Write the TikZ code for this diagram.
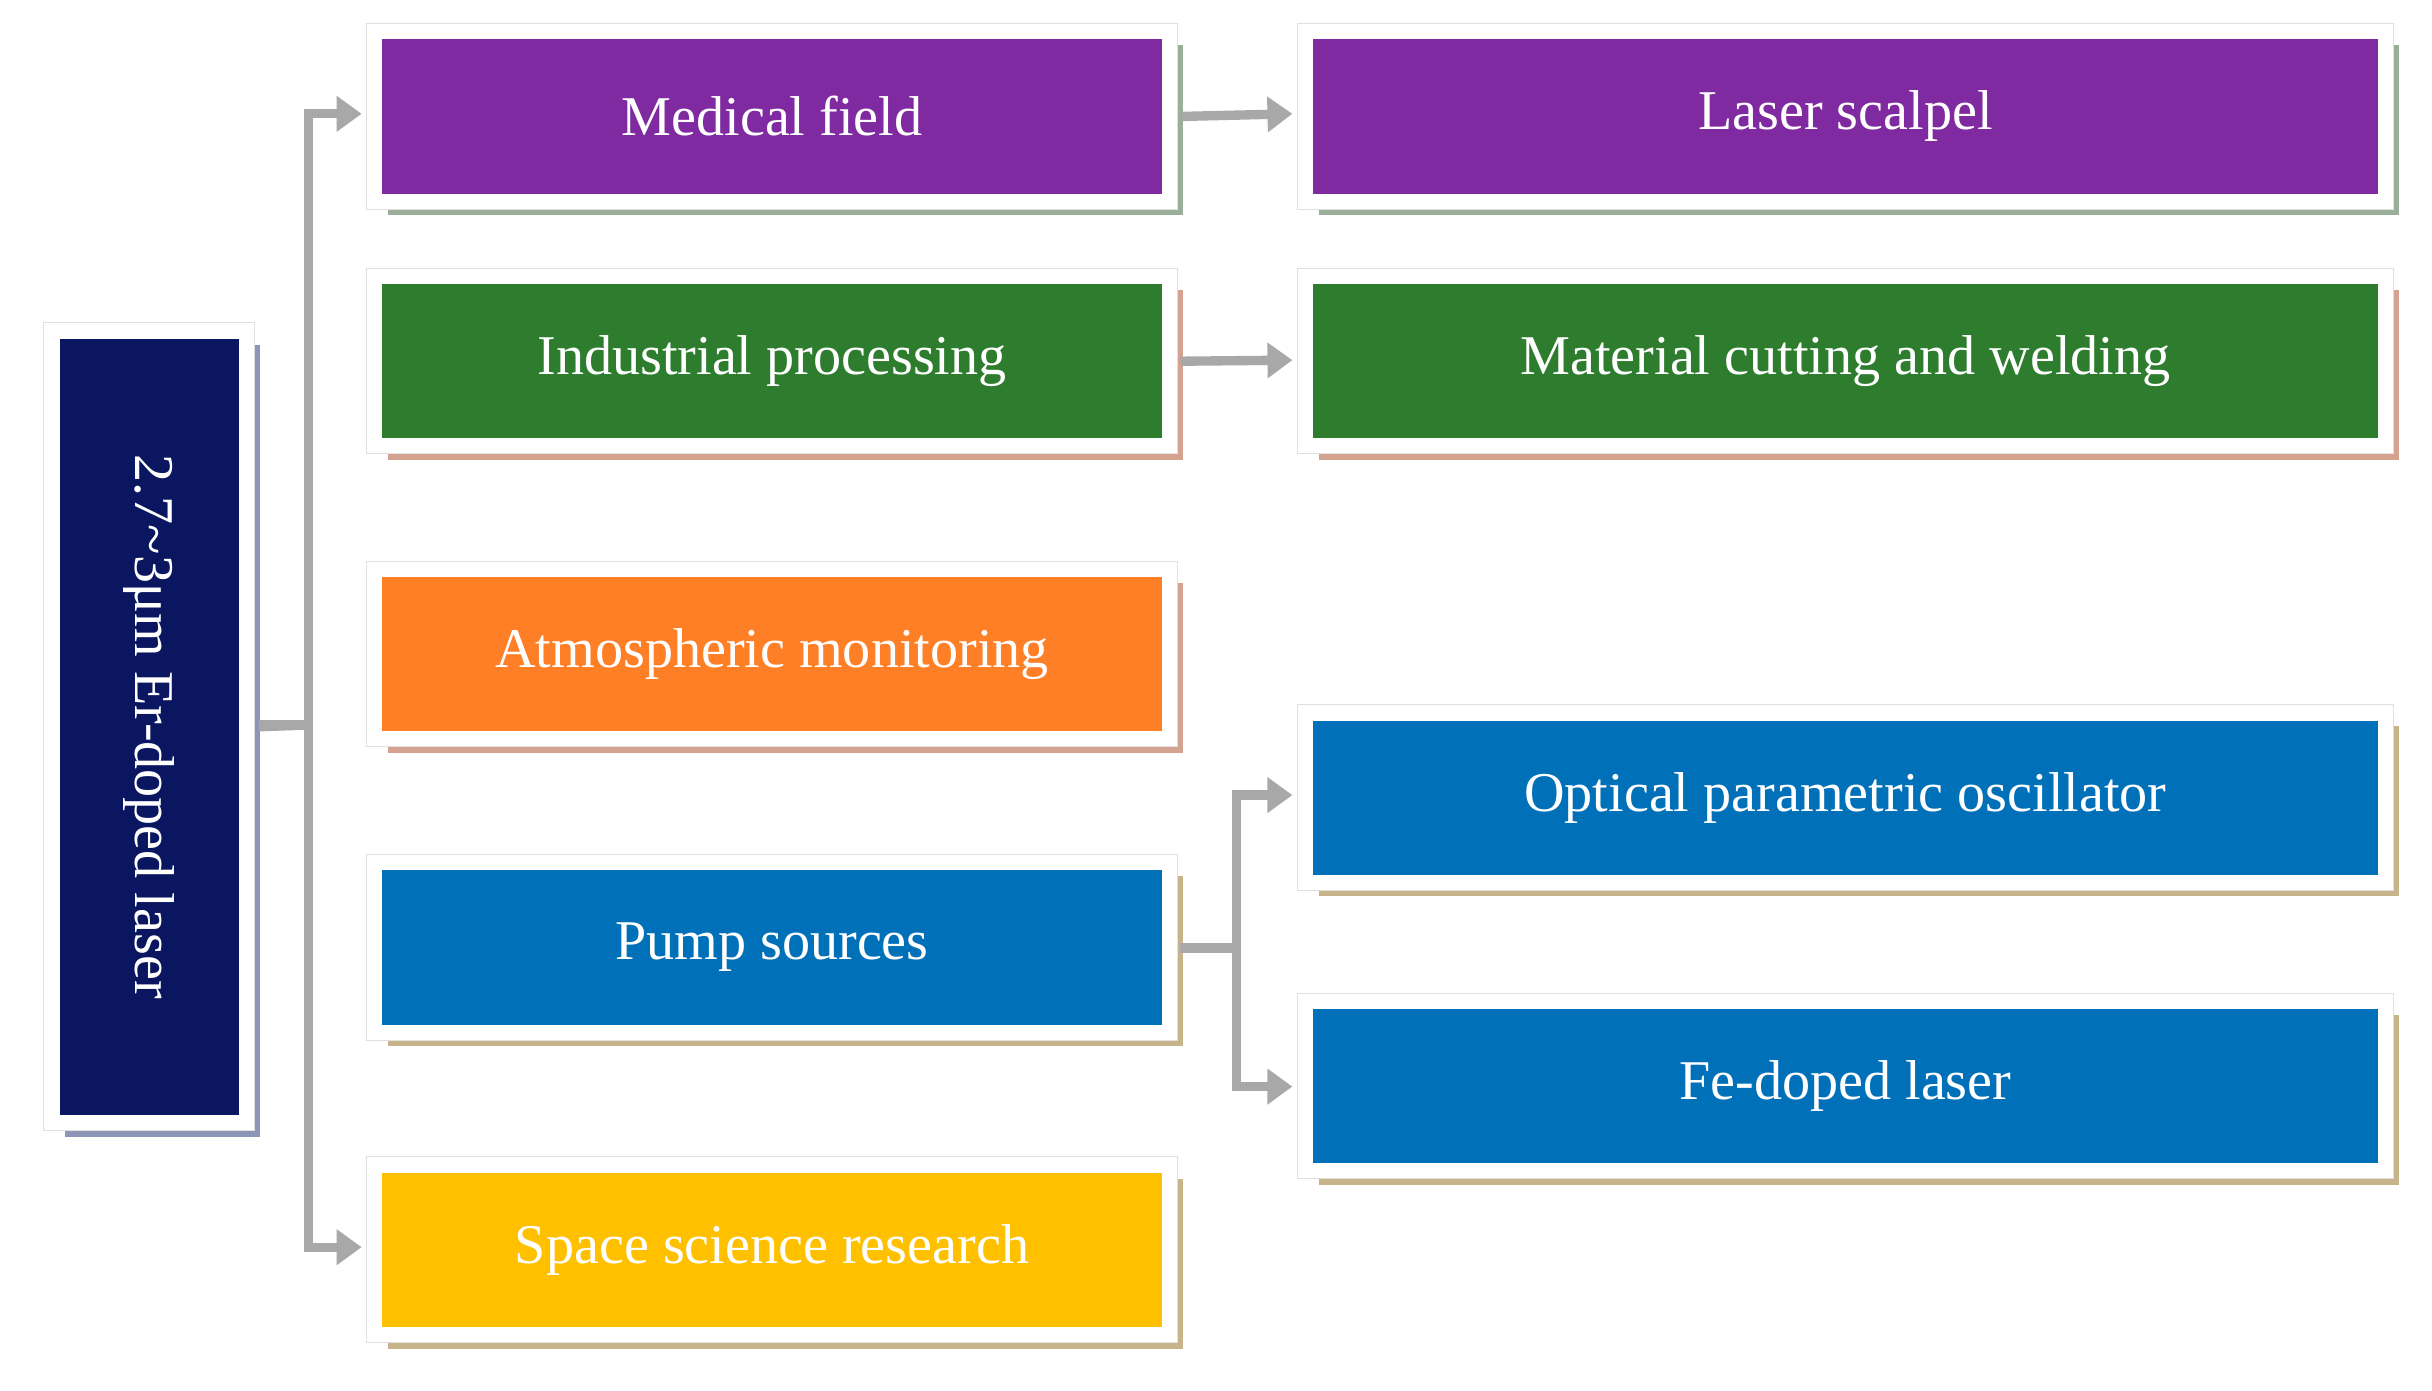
\documentclass[tikz,border=0pt]{standalone}
\usepackage{fontspec}
\setmainfont{Liberation Serif}
\usetikzlibrary{arrows.meta}
\definecolor{cpur}{HTML}{7F2AA0}
\definecolor{cgrn}{HTML}{2E7D2E}
\definecolor{corg}{HTML}{FF7F27}
\definecolor{cblu}{HTML}{0070B8}
\definecolor{cyel}{HTML}{FFC000}
\definecolor{cnav}{HTML}{0A1660}
\definecolor{sgrn}{HTML}{9AAE9A}
\definecolor{sred}{HTML}{D4A390}
\definecolor{sbei}{HTML}{C8B48A}
\definecolor{snav}{HTML}{8C94B8}
\definecolor{carr}{HTML}{A8A8A8}
\tikzset{
  arr/.style={draw=carr,line width=6pt,-{Triangle[length=16pt,width=22pt]}},
  ln/.style={draw=carr,line width=6pt},
  lbl/.style={text=white,font=\fontsize{36}{42}\selectfont},
}
\newcommand{\mybox}[8]{%
  \fill[#7] (#2+4,#3+4) rectangle (#4+14,#5+14);
  \fill[white,draw=black!12] (#2-10,#3-10) rectangle (#4+10,#5+10);
  \node[fill=#6,minimum width=#4-#2,minimum height=#5-#3,inner sep=0pt,anchor=north west,lbl] (#1) at (#2,#3) {#8};
}
\begin{document}
\begin{tikzpicture}[x=1pt,y=-1pt]
\useasboundingbox (0,0) rectangle (1560,892);
\mybox{root}{38}{217}{153}{715}{cnav}{snav}{}
\node[lbl,rotate=-90] at (root.center) {2.7\textasciitilde3μm Er-doped laser};
\mybox{med}{245}{25}{745}{124}{cpur}{sgrn}{Medical field}
\mybox{ind}{245}{182}{745}{281}{cgrn}{sred}{Industrial processing}
\mybox{atm}{245}{370}{745}{469}{corg}{sred}{Atmospheric monitoring}
\mybox{pump}{245}{558}{745}{657}{cblu}{sbei}{Pump sources}
\mybox{spc}{245}{752}{745}{851}{cyel}{sbei}{Space science research}
\mybox{las}{842}{25}{1525}{124}{cpur}{sgrn}{Laser scalpel}
\mybox{mat}{842}{182}{1525}{281}{cgrn}{sred}{Material cutting and welding}
\mybox{opo}{842}{462}{1525}{561}{cblu}{sbei}{Optical parametric oscillator}
\mybox{fe}{842}{647}{1525}{746}{cblu}{sbei}{Fe-doped laser}
% connectors
\coordinate (t1) at (198,73);
\coordinate (t2) at (198,800);
\draw[ln] (root.east -| 166,0) ++(0,0) -- (198,465);
\draw[ln] (166,465) -- (198,465);
\draw[ln] (198,800) -- (198,73);
\draw[arr] (195,73) -- (232,73);
\draw[arr] (195,800) -- (232,800);
\draw[arr] (med.east) ++(12,0) -- (829,73);
\draw[arr] (ind.east) ++(12,0) -- (829,231);
\draw[ln] (757,608) -- (793,608);
\draw[ln] (793,697) -- (793,510);
\draw[arr] (790,510) -- (829,510);
\draw[arr] (790,697) -- (829,697);
\end{tikzpicture}
\end{document}
